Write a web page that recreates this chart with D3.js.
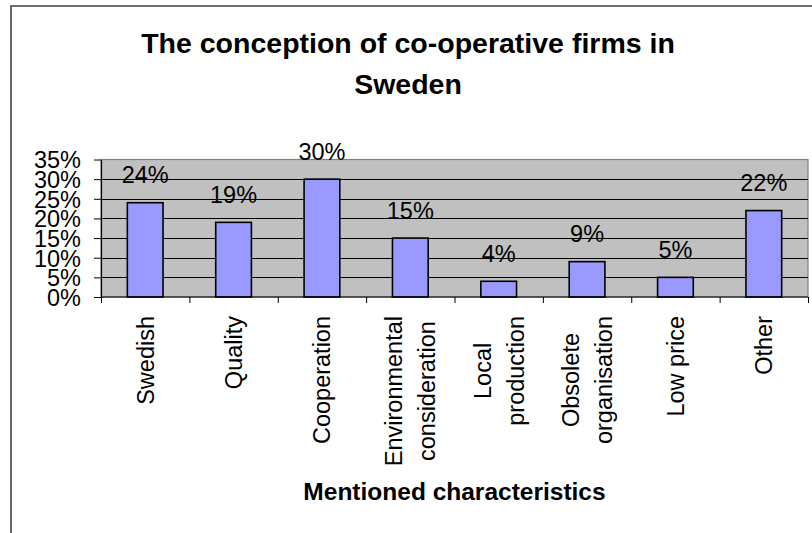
<!DOCTYPE html>
<html>
<head>
<meta charset="utf-8">
<script src="https://cdn.jsdelivr.net/npm/d3@7"></script>
<style>
  html, body { margin: 0; padding: 0; background: #fff; }
  svg { display: block; }
  text { font-family: Arial, "Liberation Sans", sans-serif; fill: #000; }
</style>
</head>
<body>
<svg id="chart" width="812" height="533"></svg>
<script>
// Share of respondents mentioning each characteristic
const categories = [
  ["Swedish"],
  ["Quality"],
  ["Cooperation"],
  ["Environmental", "consideration"],
  ["Local", "production"],
  ["Obsolete", "organisation"],
  ["Low price"],
  ["Other"]
];
const values = [0.24, 0.19, 0.30, 0.15, 0.04, 0.09, 0.05, 0.22];
const yTicks = [0, 0.05, 0.10, 0.15, 0.20, 0.25, 0.30, 0.35];
const titleLines = ["The conception of co-operative firms in", "Sweden"];
const xTitle = "Mentioned characteristics";

const svg = d3.select("#chart");
const plot = { left: 101, right: 808, top: 159.5, bottom: 297 };
const labelFont = 23.5;

// Outer frame (top and left edges visible)
svg.append("path")
  .attr("d", "M11,533 V6 H812")
  .attr("fill", "none")
  .attr("stroke", "#404040")
  .attr("stroke-width", 1.6);

// Title
const title = svg.append("text")
  .attr("x", 408)
  .attr("text-anchor", "middle")
  .style("font-weight", "bold")
  .style("font-size", "28.5px");
titleLines.forEach((t, i) => {
  title.append("tspan").attr("x", 408).attr("y", 53 + i * 41).text(t);
});

const keys = categories.map(c => c.join(" "));
const x = d3.scaleBand()
  .domain(keys)
  .range([plot.left, plot.right])
  .paddingInner(0.596)
  .paddingOuter(0.298);

const y = d3.scaleLinear()
  .domain([0, 0.35])
  .range([plot.bottom, plot.top]);

// Plot background
svg.append("rect")
  .attr("x", plot.left)
  .attr("y", plot.top)
  .attr("width", plot.right - plot.left)
  .attr("height", plot.bottom - plot.top)
  .attr("fill", "#c0c0c0")
  .attr("stroke", "#808080")
  .attr("stroke-width", 1.2);

// Gridlines
svg.append("g")
  .selectAll("line")
  .data(yTicks.filter(v => v > 0 && v < 0.35))
  .join("line")
  .attr("x1", plot.left)
  .attr("x2", plot.right)
  .attr("y1", d => Math.round(y(d)) + 0.5)
  .attr("y2", d => Math.round(y(d)) + 0.5)
  .attr("stroke", "#000")
  .attr("stroke-width", 1);

// Bars
svg.append("g")
  .selectAll("rect")
  .data(values)
  .join("rect")
  .attr("x", (d, i) => x(keys[i]))
  .attr("y", d => y(d))
  .attr("width", x.bandwidth())
  .attr("height", d => y(0) - y(d))
  .attr("fill", "#9999ff")
  .attr("stroke", "#000")
  .attr("stroke-width", 1.6);

// Value labels
svg.append("g")
  .selectAll("text")
  .data(values)
  .join("text")
  .attr("x", (d, i) => x(keys[i]) + x.bandwidth() / 2)
  .attr("y", d => y(d) - 19.5)
  .attr("text-anchor", "middle")
  .style("font-size", labelFont + "px")
  .text(d => d3.format(".0%")(d));

// Y axis
const yAxis = svg.append("g")
  .attr("transform", `translate(${plot.left},0)`)
  .call(d3.axisLeft(y).tickValues(yTicks).tickFormat(d3.format(".0%")).tickSize(7).tickSizeOuter(0).tickPadding(13));
yAxis.select(".domain").attr("stroke", "#000").attr("stroke-width", 1.2);
yAxis.selectAll(".tick line").attr("stroke", "#000");
yAxis.selectAll(".tick text")
  .style("font-size", labelFont + "px")
  .attr("dy", "0.36em")
  .attr("font-family", null);

// X axis with ticks at band boundaries
const xAxisG = svg.append("g");
xAxisG.append("line")
  .attr("x1", plot.left).attr("x2", plot.right)
  .attr("y1", plot.bottom).attr("y2", plot.bottom)
  .attr("stroke", "#000").attr("stroke-width", 1.2);
const step = x.step();
xAxisG.selectAll("line.tick")
  .data(d3.range(keys.length + 1))
  .join("line")
  .attr("class", "tick")
  .attr("x1", i => plot.left + i * step + 0.5)
  .attr("x2", i => plot.left + i * step + 0.5)
  .attr("y1", plot.bottom)
  .attr("y2", plot.bottom + 6)
  .attr("stroke", "#000");

// Rotated category labels, anchored at the top, lines centred within a block
const lineGap = 33;
const labelTop = 316;
categories.forEach((lines, i) => {
  const cx = x(keys[i]) + x.bandwidth() / 2;
  const g = svg.append("g");
  const texts = lines.map(t => g.append("text")
    .style("font-size", labelFont + "px")
    .attr("text-anchor", "middle")
    .text(t));
  const w = d3.max(texts, t => t.node().getComputedTextLength());
  const n = lines.length;
  texts.forEach((t, k) => {
    const bx = cx + (k - (n - 1) / 2) * lineGap + labelFont * 0.36;
    const by = labelTop + w / 2;
    t.attr("transform", `translate(${bx},${by}) rotate(-90)`);
  });
});

// Axis title
svg.append("text")
  .attr("x", (plot.left + plot.right) / 2)
  .attr("y", 500)
  .attr("text-anchor", "middle")
  .style("font-weight", "bold")
  .style("font-size", "24.5px")
  .text(xTitle);
</script>
</body>
</html>
